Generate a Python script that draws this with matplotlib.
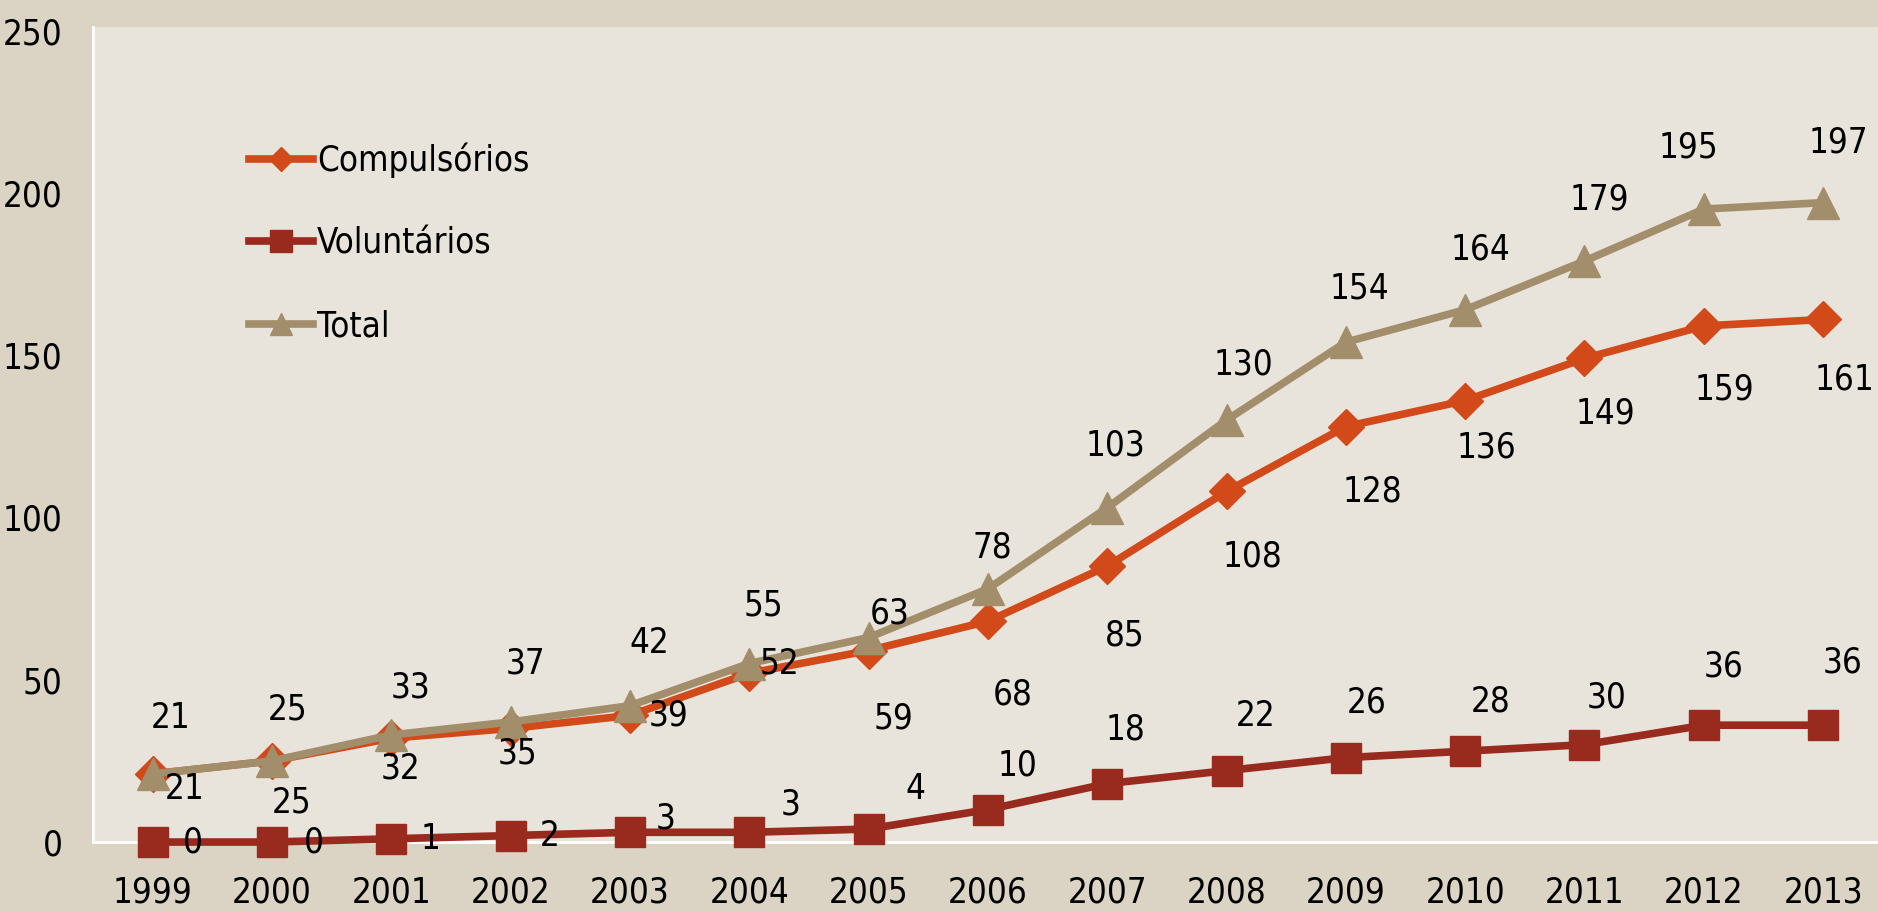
import matplotlib
matplotlib.use("Agg")
import matplotlib.pyplot as plt

plt.rcParams['font.family'] = ['DejaVu Sans']
plt.rcParams['font.stretch'] = 'condensed'

years = ['1999', '2000', '2001', '2002', '2003', '2004', '2005', '2006',
         '2007', '2008', '2009', '2010', '2011', '2012', '2013']
compulsorios = [21, 25, 32, 35, 39, 52, 59, 68, 85, 108, 128, 136, 149, 159, 161]
voluntarios = [0, 0, 1, 2, 3, 3, 4, 10, 18, 22, 26, 28, 30, 36, 36]
total = [21, 25, 33, 37, 42, 55, 63, 78, 103, 130, 154, 164, 179, 195, 197]

# label offsets (points, x right / y up), hand placed like the original
off_comp = [(23, -11), (14, -30), (7, -22), (5, -18), (28, 0), (22, 7), (18, -49),
            (18, -53), (13, -50), (19, -47), (19, -47), (15, -34), (15, -40),
            (15, -46), (15, -43)]
off_vol = [(29, 0), (30, 0), (28, 0), (28, 0), (26, 10), (30, 20), (34, 29),
           (21, 32), (13, 39), (21, 39), (15, 40), (18, 36), (16, 34), (14, 42),
           (14, 45)]
off_tot = [(13, 40), (11, 37), (14, 34), (11, 42), (14, 45), (10, 42), (15, 17),
           (3, 30), (6, 45), (12, 40), (10, 39), (11, 43), (11, 44), (-11, 44),
           (11, 43)]

c_comp = '#D24A1A'
c_vol = '#992A1E'
c_tot = '#A38E6C'
bg_out = '#DBD4C4'
bg_in = '#E8E4DC'

fig = plt.figure(figsize=(18.78, 9.11), dpi=100, facecolor=bg_out)
ax = fig.add_axes([0.0495, 0.0757, 0.9505, 0.8943])
ax.set_facecolor(bg_in)

x = list(range(len(years)))
ax.plot(x, compulsorios, color=c_comp, lw=5.5, marker='D', ms=18,
        label='Compulsórios', clip_on=False, zorder=3)
ax.plot(x, voluntarios, color=c_vol, lw=5.5, marker='s', ms=22,
        label='Voluntários', clip_on=False, zorder=4)
ax.plot(x, total, color=c_tot, lw=5.5, marker='^', ms=23,
        label='Total', clip_on=False, zorder=5)

fs = 25
for series, offs in ((compulsorios, off_comp), (voluntarios, off_vol), (total, off_tot)):
    for i, v in enumerate(series):
        ax.annotate(str(v), (i, v), xytext=offs[i], textcoords='offset points',
                    ha='center', va='center', fontsize=fs, color='black', zorder=6)

ax.set_xlim(-0.5, 14.46)
ax.set_ylim(0, 251)
ax.set_yticks([0, 50, 100, 150, 200, 250])
ax.set_xticks(x)
ax.set_xticklabels(years)
ax.tick_params(axis='both', length=0, labelsize=fs, colors='black')
ax.tick_params(axis='y', pad=22)
ax.tick_params(axis='x', pad=24)

for s in ('top', 'right'):
    ax.spines[s].set_visible(False)
for s in ('left', 'bottom'):
    ax.spines[s].set_color('white')
    ax.spines[s].set_linewidth(2)

leg = ax.legend(loc='upper left', bbox_to_anchor=(0.07, 0.897), frameon=False,
                fontsize=fs, handlelength=1.85, handletextpad=0.1,
                labelspacing=1.4, markerscale=0.7)

fig.savefig('out.png', dpi=100, facecolor=bg_out)
